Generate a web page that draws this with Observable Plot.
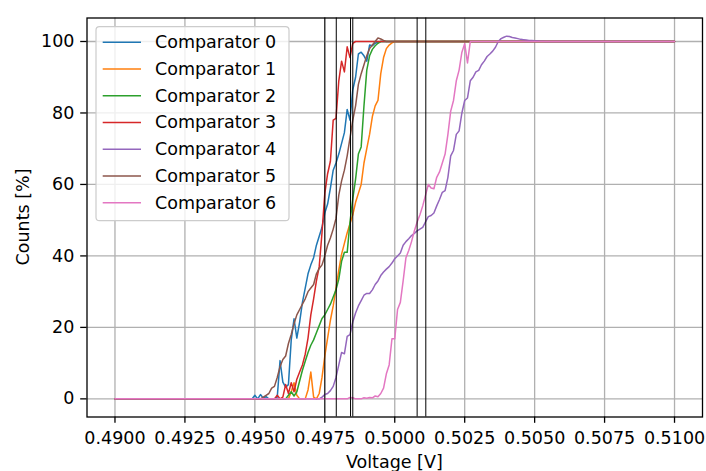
<!DOCTYPE html>
<html><head><meta charset="utf-8">
<script src="https://cdn.jsdelivr.net/npm/d3@7"></script>
<script src="https://cdn.jsdelivr.net/npm/@observablehq/plot@0.6"></script>
<style>body{margin:0;background:#fff} svg{display:block}</style>
</head><body><div id="chart"></div>
<script>
// Voltage sampling grid: 0.4900 .. 0.5100 V in 0.0001 V steps
const V0 = 0.49, STEP = 0.0001, N = 201;
const seriesNames = ["Comparator 0","Comparator 1","Comparator 2","Comparator 3","Comparator 4","Comparator 5","Comparator 6"];
const colors = ["#1f77b4","#ff7f0e","#2ca02c","#d62728","#9467bd","#8c564b","#e377c2"];
// Each comparator: values read from the picture over its transition, starting at sample index `start`
// (flat at 0 before, flat at 100 after)
const comp0Start = 49;
const comp0 = [0,1.0,0,1.2,0.2,0.6,0,0,0,0.5,10.7,4.7,3.3,4,16.5,22.4,17,21.5,27,31,35,37.5,39.5,43,45.5,48,52,54.5,59,64,66,68.5,71.5,74.5,81,78,86.5,90,96.5,97,96,94.5,99,98.8,99.5,99.8];
const comp1Start = 62;
const comp1 = [0,2,4.5,1,0,0,0,2.5,7.5,0.5,0,1.5,6,12,17,22,26,31,36,40.5,43.5,46.5,49,51.5,55,57.5,60,66,70,74,79,82,83.5,91,95.5,98,99,99.6];
const comp2Start = 61;
const comp2 = [0,1,2,0.8,2,5,8,10.5,13,15,16.5,18.5,20.5,22.5,23.5,25,26.5,28.5,30.5,33.5,38.5,41,41,49.5,56,61.5,68.5,70.5,82,92,96,97.8,98.8,99.5];
const comp3Start = 57;
const comp3 = [0,1,0,0.5,4,1.5,4.5,2,5.5,7.5,9.5,12.5,17,23.5,28,33,37,46.5,57.5,63,66.5,78,78.5,89,94.5,91.5,98.5,95.5,99.5];
const comp4Start = 73;
const comp4 = [0,0.5,1.2,1.5,2.3,3.5,6,9.5,13,12.6,17.5,18,21.5,24,26,27.5,29,29.5,29.5,30.5,32,33,34.5,35.5,36.3,37,38,39.2,40,40.8,43,44,44.8,45.7,46.3,47,47.5,48,49.5,51,51.3,52,54,55.8,57.8,58.3,62,68,69.5,74,75,80,83.5,84.2,89,90,91.5,91.9,93.5,94.5,95.8,96.5,97.3,98.4,100,100.8,101.2,101.5,101.4,101.1,101,100.8,100.6,100.5,100.4,100.3,100.3,100.2,100.2,100.1,100.1];
const comp5Start = 52;
const comp5 = [0,0.5,1,1.5,3,3.5,6,9,11,12,15.5,18,21,23.5,25,26.5,28,30,31,32,35,36.5,37.5,40,43,45,47.5,50.5,57,61,64,68,73,78,82,88,91,93.5,96,98,99,100,101,100.7,100.3];
const comp6Start = 83;
const comp6 = [0,0.4,0.3,0,0,0,0.3,0.2,0.4,0.3,0.8,0.6,1.5,3,7,9.5,16.8,16.8,25,27,33,39.5,41.5,44,47,49.5,51.5,54,57,60,59,58.8,62,63.5,66,68.5,74,80.5,83.5,89,92,97,99.4,94,100];
// 50 % points (vertical markers)
const thresholds = [0.4975, 0.49791, 0.49842, 0.4985, 0.5008, 0.50111];
const xTicks = [0.4900,0.4925,0.4950,0.4975,0.5000,0.5025,0.5050,0.5075,0.5100];
const yTicks = [0,20,40,60,80,100];

const starts = [comp0Start,comp1Start,comp2Start,comp3Start,comp4Start,comp5Start,comp6Start];
const vals = [comp0,comp1,comp2,comp3,comp4,comp5,comp6];
const rows = [];
seriesNames.forEach((s, j) => {
  for (let k = 0; k < N; k++) {
    const idx = k - starts[j];
    const c = idx < 0 ? 0 : (idx < vals[j].length ? vals[j][idx] : 100);
    rows.push({s, v: +(V0 + k * STEP).toFixed(4), c});
  }
});

const FONT = "DejaVu Sans";
const FS = 17.5;
const chart = Plot.plot({
  width: 706, height: 471,
  marginLeft: 86.5, marginRight: 4, marginTop: 17.5, marginBottom: 54.5,
  style: {fontFamily: FONT, fontSize: FS + "px", background: "white", color: "black"},
  x: {domain: [0.489, 0.511], label: null},
  y: {domain: [-5.075, 106.575], label: null},
  color: {domain: seriesNames, range: colors},
  marks: [
    Plot.gridX(xTicks, {stroke: "#b0b0b0", strokeOpacity: 1, strokeWidth: 1.3}),
    Plot.gridY(yTicks, {stroke: "#b0b0b0", strokeOpacity: 1, strokeWidth: 1.3}),
    Plot.line(rows, {x: "v", y: "c", z: "s", stroke: "s", strokeWidth: 1.5}),
    Plot.ruleX(thresholds, {stroke: "black", strokeWidth: 1}),
    Plot.frame({stroke: "black", strokeWidth: 1.3}),
    Plot.axisX({ticks: xTicks, tickFormat: d3.format(".4f"), tickSize: 6.3, tickPadding: 8, strokeWidth: 1.3, label: null, fontSize: FS}),
    Plot.axisY({ticks: yTicks, tickSize: 6.3, tickPadding: 6.3, strokeWidth: 1.3, label: null, fontSize: FS})
  ]
});
document.getElementById("chart").appendChild(chart);

const svg = d3.select(chart);
// axis titles
svg.append("text").attr("x", 394.3).attr("y", 468).attr("text-anchor", "middle")
  .attr("font-family", FONT).attr("font-size", FS).attr("fill", "black").text("Voltage [V]");
svg.append("text").attr("transform", "translate(23,217) rotate(-90)").attr("text-anchor", "middle")
  .attr("dominant-baseline", "central").attr("font-family", FONT).attr("font-size", FS)
  .attr("fill", "black").text("Counts [%]");
// legend
const lg = svg.append("g");
lg.append("rect").attr("x", 96).attr("y", 26.7).attr("width", 193).attr("height", 194).attr("rx", 3.5)
  .attr("fill", "white").attr("fill-opacity", 0.8).attr("stroke", "#cccccc").attr("stroke-width", 1.2);
seriesNames.forEach((n, k) => {
  const y = 42.3 + k * 26.73;
  lg.append("line").attr("x1", 102.7).attr("x2", 141).attr("y1", y).attr("y2", y)
    .attr("stroke", colors[k]).attr("stroke-width", 1.5);
  lg.append("text").attr("x", 155).attr("y", y).attr("text-anchor", "start").attr("dominant-baseline", "central")
    .attr("font-family", FONT).attr("font-size", FS).attr("fill", "black").text(n);
});
</script></body></html>
